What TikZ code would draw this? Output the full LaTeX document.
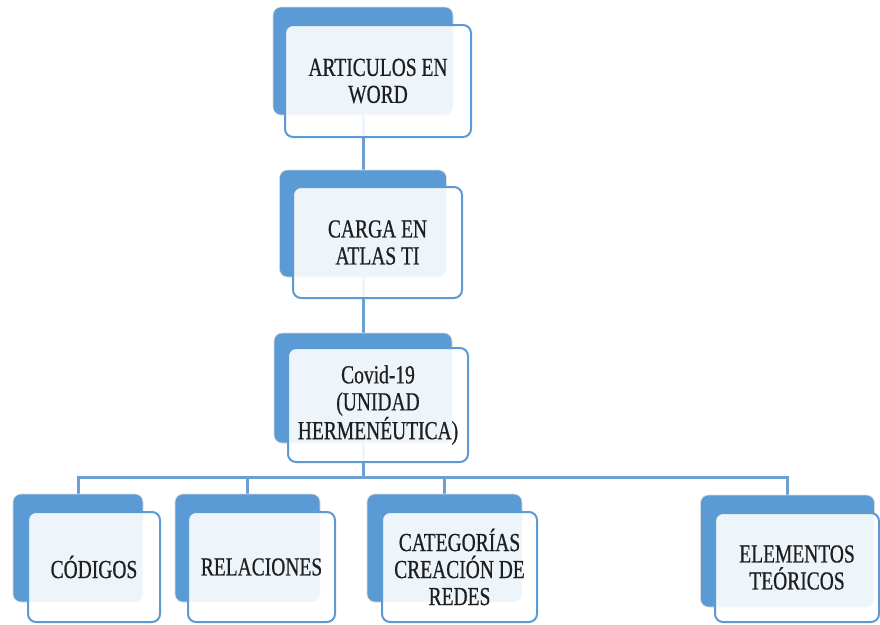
\documentclass[tikz,border=0pt]{standalone}
\usepackage{fontspec}
\newfontfamily\boxfont[FakeStretch=0.75,FakeBold=0.6]{Liberation Serif}
\definecolor{backblue}{HTML}{5B9BD5}
\definecolor{edgeblue}{HTML}{5B9BD5}
\definecolor{linkblue}{HTML}{6E9FD3}
\definecolor{txt}{HTML}{1F1F1F}
\tikzset{
  backbox/.style={draw=black!14, line width=0.6pt, fill=backblue, rounded corners=8pt, inner sep=0pt},
  frontbox/.style={draw=edgeblue, line width=2pt, fill=white, fill opacity=0.9, text opacity=1, draw opacity=1,
    rounded corners=8pt, inner sep=0pt, align=center, text=txt,
    font=\boxfont\fontsize{26}{27}\selectfont},
  link/.style={draw=linkblue, line width=3pt}
}
\begin{document}
\begin{tikzpicture}[x=1pt,y=-1pt]
\useasboundingbox (0,0) rectangle (880,624);
% back rectangles as coordinates for connectors
\coordinate (c1) at (363,61);
\coordinate (c2) at (363,223.5);
\coordinate (c3) at (363,388);
\coordinate (bus) at (363,477);
\coordinate (c4) at (78,548);
\coordinate (c5) at (247.5,548);
\coordinate (c6) at (444.5,548);
\coordinate (c7) at (787.5,551);
% connectors (behind boxes)
\draw[link] (c1) -- (c2);
\draw[link] (c2) -- (c3);
\draw[link] (c3) -- (bus);
\draw[link] (c4) |- (bus);
\draw[link] (c5) |- (bus);
\draw[link] (c6) |- (bus);
\draw[link] (c7) |- (bus);
% back boxes
\node[backbox, minimum width=180pt, minimum height=108pt] (b1) at (c1) {};
\node[backbox, minimum width=167pt, minimum height=107pt] (b2) at (c2) {};
\node[backbox, minimum width=178pt, minimum height=110pt] (b3) at (c3) {};
\node[backbox, minimum width=130pt, minimum height=108pt] (b4) at (c4) {};
\node[backbox, minimum width=145pt, minimum height=108pt] (b5) at (c5) {};
\node[backbox, minimum width=155pt, minimum height=108pt] (b6) at (c6) {};
\node[backbox, minimum width=174pt, minimum height=112pt] (b7) at (c7) {};
% front boxes
\node[frontbox, minimum width=186pt, minimum height=112pt] (f1) at (378,81) {ARTICULOS EN\\WORD};
\node[frontbox, minimum width=169pt, minimum height=111pt] (f2) at (377.5,242.5) {CARGA EN\\ATLAS TI};
\node[frontbox, minimum width=180pt, minimum height=114pt] (f3) at (378,405) {Covid-19\\(UNIDAD\\HERMENÉUTICA)};
\node[frontbox, minimum width=132pt, minimum height=110pt] (f4) at (94,567) {CÓDIGOS};
\node[frontbox, minimum width=147pt, minimum height=110pt] (f5) at (261.5,567) {RELACIONES};
\node[frontbox, minimum width=155pt, minimum height=110pt] (f6) at (459.5,567) {CATEGORÍAS\\CREACIÓN DE\\REDES};
\node[frontbox, minimum width=164pt, minimum height=109pt] (f7) at (797,567.5) {ELEMENTOS\\TEÓRICOS};
\end{tikzpicture}
\end{document}
